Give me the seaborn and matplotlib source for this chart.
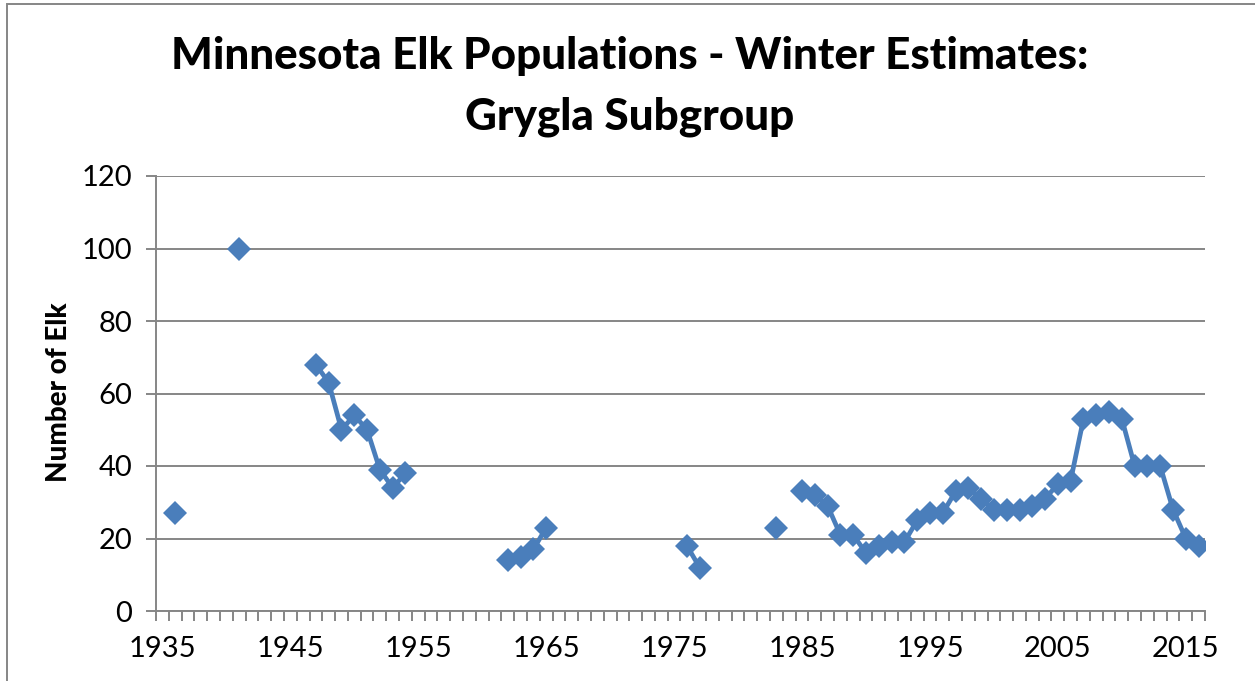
import numpy as np
import pandas as pd
import seaborn as sns
import matplotlib.pyplot as plt
from matplotlib.patches import Rectangle
from matplotlib.ticker import MultipleLocator, FixedLocator

sns.set_theme(style="white")
plt.rcParams['font.family'] = ['Lato', 'DejaVu Sans']
plt.rcParams['text.color'] = 'black'

# winter estimates, Grygla subgroup (years without a survey are missing)
years = [1936, 1941,
         1947, 1948, 1949, 1950, 1951, 1952, 1953, 1954,
         1962, 1963, 1964, 1965,
         1976, 1977,
         1983,
         1985, 1986, 1987, 1988, 1989, 1990, 1991, 1992, 1993, 1994,
         1995, 1996, 1997, 1998, 1999, 2000, 2001, 2002, 2003, 2004,
         2005, 2006, 2007, 2008, 2009, 2010, 2011, 2012, 2013, 2014,
         2015, 2016]
elk = [27, 100,
       68, 63, 50, 54, 50, 39, 34, 38,
       14, 15, 17, 23,
       18, 12,
       23,
       33, 32, 29, 21, 21, 16, 18, 19, 19, 25,
       27, 27, 33, 34, 31, 28, 28, 28, 29, 31,
       35, 36, 53, 54, 55, 53, 40, 40, 40, 28,
       20, 18]
year_labels = ["1935", "1945", "1955", "1965", "1975", "1985", "1995", "2005", "2015"]
y_ticks = [0, 20, 40, 60, 80, 100, 120]

df = pd.DataFrame({"year": years, "elk": elk})
# break the line wherever a year is missing
df["segment"] = (df["year"].diff() != 1).cumsum()

blue = "#4A7EBB"
grey = "#868686"

fig = plt.figure(figsize=(12.55, 6.81), dpi=100)
ax = fig.add_axes([156 / 1255, 1 - 611 / 681, (1205 - 156) / 1255, (611 - 176) / 681])

sns.lineplot(data=df, x="year", y="elk", units="segment", estimator=None,
             color=blue, linewidth=3.4, marker="D", markersize=12,
             markeredgewidth=0, ax=ax, zorder=3)

ax.set_xlim(1934.5, 2016.5)
ax.set_ylim(0, 120)
ax.xaxis.set_major_locator(FixedLocator([int(s) for s in year_labels]))
ax.set_xticklabels(year_labels, fontsize=21)
ax.xaxis.set_minor_locator(MultipleLocator(1, offset=0.5))
ax.set_yticks(y_ticks)
ax.set_yticklabels([str(v) for v in y_ticks], fontsize=21)

ax.tick_params(axis="x", which="major", length=0, pad=18, labelcolor="black")
ax.tick_params(axis="x", which="minor", length=7, width=1.4, color=grey, direction="out", bottom=True)
ax.tick_params(axis="y", length=7, width=1.4, color=grey, direction="out", left=True,
               pad=10, labelcolor="black")

ax.grid(axis="y", color=grey, linewidth=1.4)
ax.grid(axis="x", visible=False)
ax.set_axisbelow(True)
for side in ["top", "right"]:
    ax.spines[side].set_visible(False)
for side in ["left", "bottom"]:
    ax.spines[side].set_color(grey)
    ax.spines[side].set_linewidth(1.4)

ax.set_xlabel("")
ax.set_ylabel("")
fig.text(59 / 1255, 1 - 392 / 681, "Number of Elk", rotation=90,
         ha="center", va="center", fontsize=20, fontweight="black",
         color="black", family=["Lato", "DejaVu Sans"])

fig.text(0.502, 1 - 56 / 681, "Minnesota Elk Populations - Winter Estimates:",
         ha="center", va="center", fontsize=31.7, fontweight="black", color="black")
fig.text(0.502, 1 - 117 / 681, "Grygla Subgroup",
         ha="center", va="center", fontsize=31.7, fontweight="black", color="black")

fig.patches.append(Rectangle((7 / 1255, -0.05), 1.1, 1 - 4 / 681 + 0.05,
                             transform=fig.transFigure, fill=False,
                             edgecolor=grey, linewidth=1.4))

fig.savefig("out.png", dpi=100)
